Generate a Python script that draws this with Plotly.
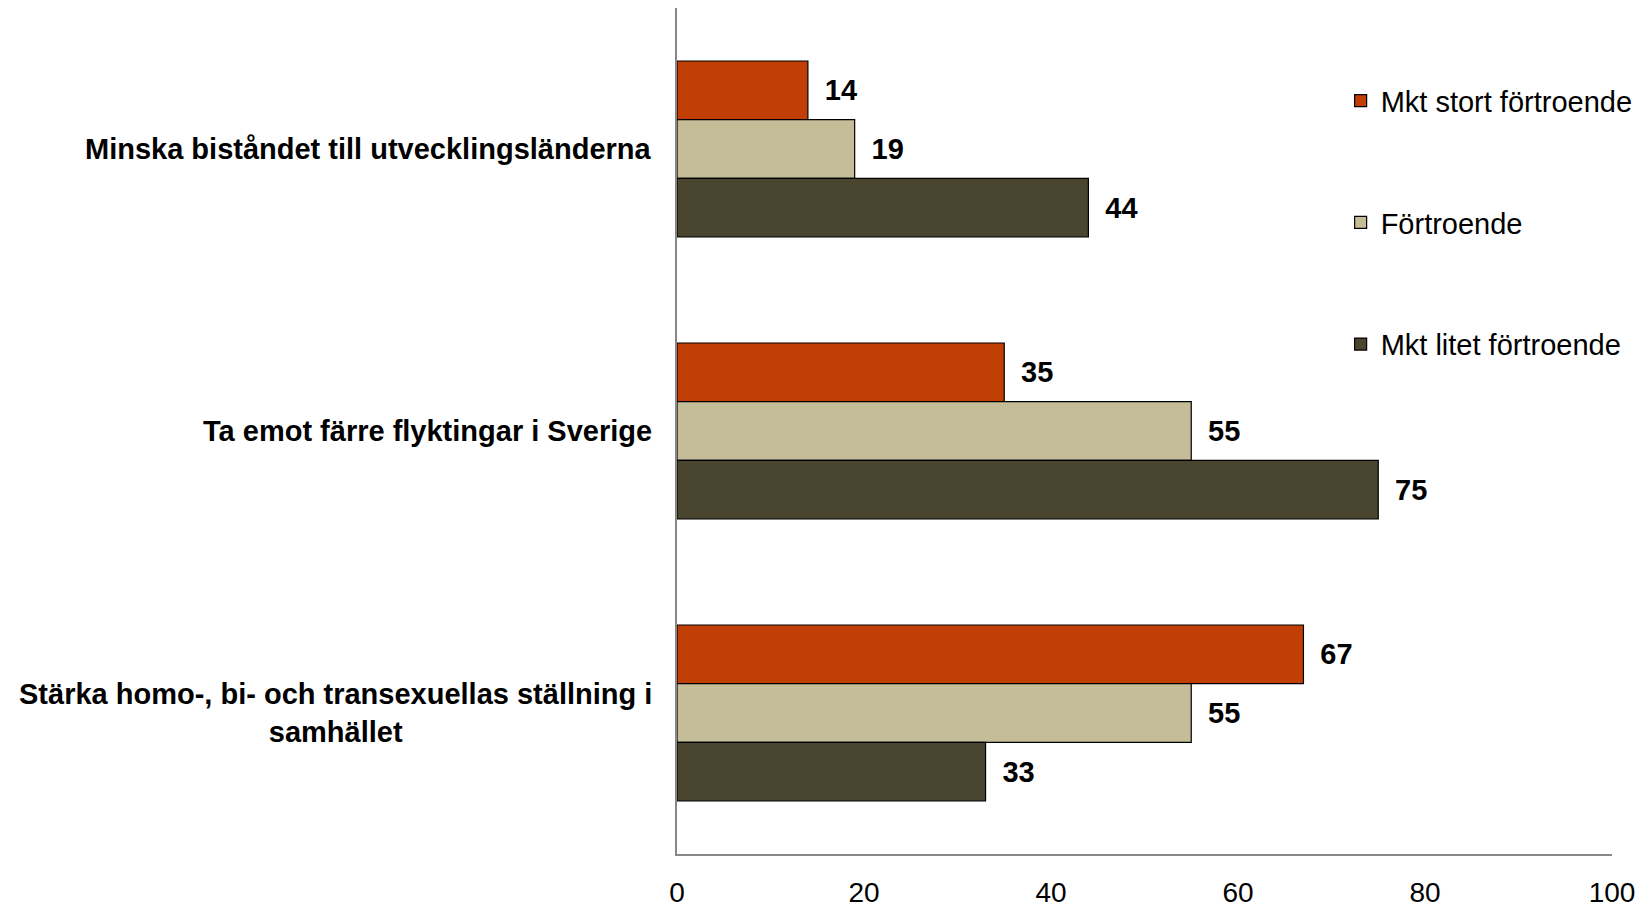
import plotly.graph_objects as go

categories = [
    "Minska biståndet till utvecklingsländerna",
    "Ta emot färre flyktingar i Sverige",
    "Stärka homo-, bi- och transexuellas ställning i<br>samhället",
]
series_names = ["Mkt stort förtroende", "Förtroende", "Mkt litet förtroende"]
mkt_stort = [14, 35, 67]
fortroende = [19, 55, 55]
mkt_litet = [44, 75, 33]
colors = ["#C13E05", "#C4BD97", "#4A452F"]
tick_vals = [0, 20, 40, 60, 80, 100]

FONT = "Liberation Sans, Arial, sans-serif"

fig = go.Figure()
for i, (name, vals) in enumerate(zip(series_names, [mkt_stort, fortroende, mkt_litet])):
    fig.add_trace(go.Bar(
        y=categories, x=vals, name=name, orientation="h",
        marker=dict(color=colors[i], line=dict(color="black", width=1.2)),
        text=vals, texttemplate="\u00a0\u2009%{x}", textposition="outside",
        textfont=dict(family=FONT, size=29, color="black", weight="bold"),
        cliponaxis=False, legendgroup=f"g{i}",
    ))

for cat in categories:
    fig.add_annotation(
        x=-0.025, xref="paper", y=cat, yref="y", text=cat,
        xanchor="right", yanchor="middle", align="center", showarrow=False,
        font=dict(family=FONT, size=29, color="black", weight="bold"),
    )

fig.update_layout(
    width=1649, height=908,
    margin=dict(l=677, r=37, t=8, b=54, autoexpand=False),
    paper_bgcolor="white", plot_bgcolor="white",
    barmode="group", bargap=0.376, bargroupgap=0,
    font=dict(family=FONT, color="black"),
    showlegend=True,
    legend=dict(
        x=0.813, xref="container", xanchor="left",
        y=0.917, yref="container", yanchor="top",
        font=dict(family=FONT, size=29, color="black"),
        tracegroupgap=81, itemwidth=30, bgcolor="rgba(0,0,0,0)",
    ),
    xaxis=dict(
        range=[0, 100], tickvals=tick_vals, showgrid=False, zeroline=False,
        showline=True, linecolor="#878787", linewidth=2, automargin=False,
        ticks="outside", ticklen=12, tickcolor="rgba(0,0,0,0)",
        tickfont=dict(family=FONT, size=28, color="black"),
    ),
    yaxis=dict(
        autorange="reversed", showticklabels=False, showgrid=False, zeroline=False,
        showline=True, linecolor="#878787", linewidth=2, ticks="", automargin=False,
    ),
)

fig.write_html(
    "out.html",
    config={"displayModeBar": False},
    post_script="document.body.style.margin='0';document.body.style.overflow='hidden';",
)
